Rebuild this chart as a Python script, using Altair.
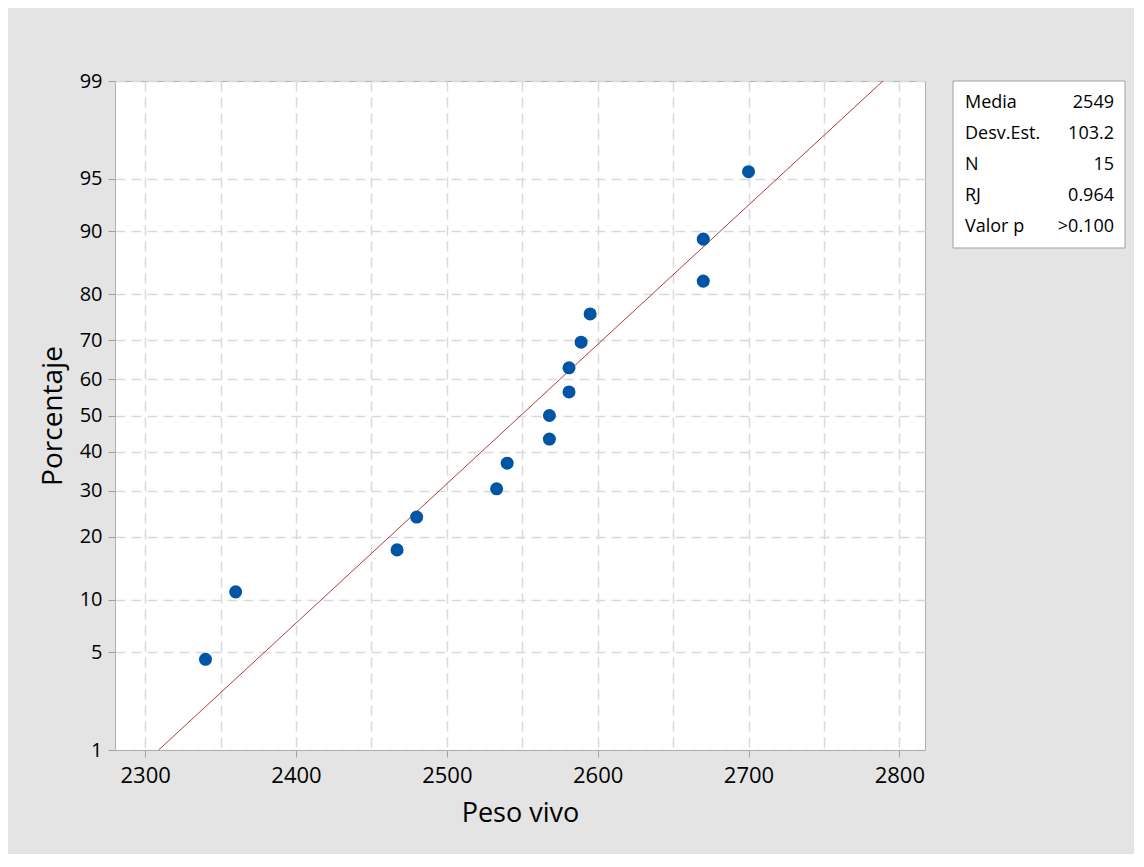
import altair as alt
import pandas as pd
from statistics import NormalDist

# ---- data ----
peso_vivo = [2340, 2360, 2467, 2480, 2533, 2540, 2568, 2568, 2581, 2581, 2589, 2595, 2670, 2670, 2700]
porcentaje = [4.5, 11.0, 17.5, 24.0, 30.5, 37.0, 43.5, 50.0, 56.5, 63.0, 69.5, 76.0, 82.5, 89.0, 95.5]

media = 2549
desv_est = 103.2
fit_pct = [1, 99]

y_tick_pct = [1, 5, 10, 20, 30, 40, 50, 60, 70, 80, 90, 95, 99]
x_ticks = [2300, 2350, 2400, 2450, 2500, 2550, 2600, 2650, 2700, 2750, 2800]

stat_names = ["Media", "Desv.Est.", "N", "RJ", "Valor p"]
stat_values = ["2549", "103.2", "15", "0.964", ">0.100"]

# ---- derived tables ----
nd = NormalDist()
y_tick_z = [nd.inv_cdf(p / 100) for p in y_tick_pct]
y_domain = [nd.inv_cdf(0.01), nd.inv_cdf(0.99)]
x_domain = [2280, 2817]

pts = pd.DataFrame({"x": peso_vivo, "pct": porcentaje})
fit = pd.DataFrame({"pct": fit_pct})
stats = pd.DataFrame({"name": stat_names, "val": stat_values, "row": list(range(len(stat_names)))})

FONT = "Open Sans"

x_scale = alt.Scale(domain=x_domain, nice=False, zero=False)
y_scale = alt.Scale(domain=y_domain, nice=False, zero=False)

x_axis = alt.Axis(
    values=x_ticks,
    title="Peso vivo",
    labelExpr="datum.value % 100 == 0 ? datum.label : ''",
    tickOpacity={"condition": {"test": "datum.value % 100 == 0", "value": 1}, "value": 0},
    format="d",
    grid=True,
    gridDash=[10, 6],
    gridColor="#d9d9d9",
    gridWidth=1.5,
    domainColor="#b0b0b0",
    tickColor="#a0a0a0",
    tickSize=7,
    labelFontSize=22,
    labelFont=FONT,
    labelColor="#000000",
    labelPadding=8,
    titleFont=FONT,
    titleFontSize=27,
    titleFontWeight="normal",
    titleColor="#000000",
    titlePadding=14,
)

y_axis = alt.Axis(
    values=y_tick_z,
    title="Porcentaje",
    labelExpr="format(round(cumulativeNormal(datum.value) * 100), 'd')",
    grid=True,
    gridDash=[10, 6],
    gridColor="#d9d9d9",
    gridWidth=1.5,
    domainColor="#b0b0b0",
    tickColor="#a0a0a0",
    tickSize=7,
    labelFontSize=20,
    labelFont=FONT,
    labelColor="#000000",
    labelPadding=6,
    titleFont=FONT,
    titleFontSize=28,
    titleFontWeight="normal",
    titleColor="#000000",
    titlePadding=12,
)

points = alt.Chart(pts).transform_calculate(
    z="quantileNormal(datum.pct / 100)"
).mark_circle(size=170, color="#0055a5", opacity=1).encode(
    x=alt.X("x:Q", scale=x_scale, axis=x_axis),
    y=alt.Y("z:Q", scale=y_scale, axis=y_axis),
)

line = alt.Chart(fit).transform_calculate(
    z="quantileNormal(datum.pct / 100)",
    x=f"{media} + quantileNormal(datum.pct / 100) * {desv_est}",
).mark_line(color="#b03c3c", strokeWidth=1).encode(
    x=alt.X("x:Q", scale=x_scale),
    y=alt.Y("z:Q", scale=y_scale),
)

box = alt.Chart(pd.DataFrame({"a": [0]})).mark_rect(
    fill="white", stroke="#a0a0a0", strokeWidth=1
).encode(
    x=alt.value(838), x2=alt.value(1010), y=alt.value(0), y2=alt.value(167)
)

row_scale = alt.Scale(domain=[0, 4], range=[22, 146])

names = alt.Chart(stats).mark_text(
    align="left", baseline="middle", font=FONT, fontSize=18, color="#000000"
).encode(x=alt.value(850), y=alt.Y("row:Q", scale=row_scale, axis=None), text="name:N")

vals = alt.Chart(stats).mark_text(
    align="right", baseline="middle", font=FONT, fontSize=18, color="#000000"
).encode(x=alt.value(999), y=alt.Y("row:Q", scale=row_scale, axis=None), text="val:N")

base = alt.layer(line, points).properties(width=810, height=669)
legend = alt.layer(box, names, vals).properties(width=810, height=669)

chart = alt.layer(base, legend).resolve_scale(y="independent").properties(
    width=810,
    height=669,
    autosize=alt.AutoSizeParams(type="none"),
    padding={"left": 107, "top": 73, "right": 209, "bottom": 104},
    background="#e4e4e4",
).configure_view(fill="white", stroke="#b0b0b0", strokeWidth=1)

chart.save("out.html", embed_options={"renderer": "svg", "actions": False})
